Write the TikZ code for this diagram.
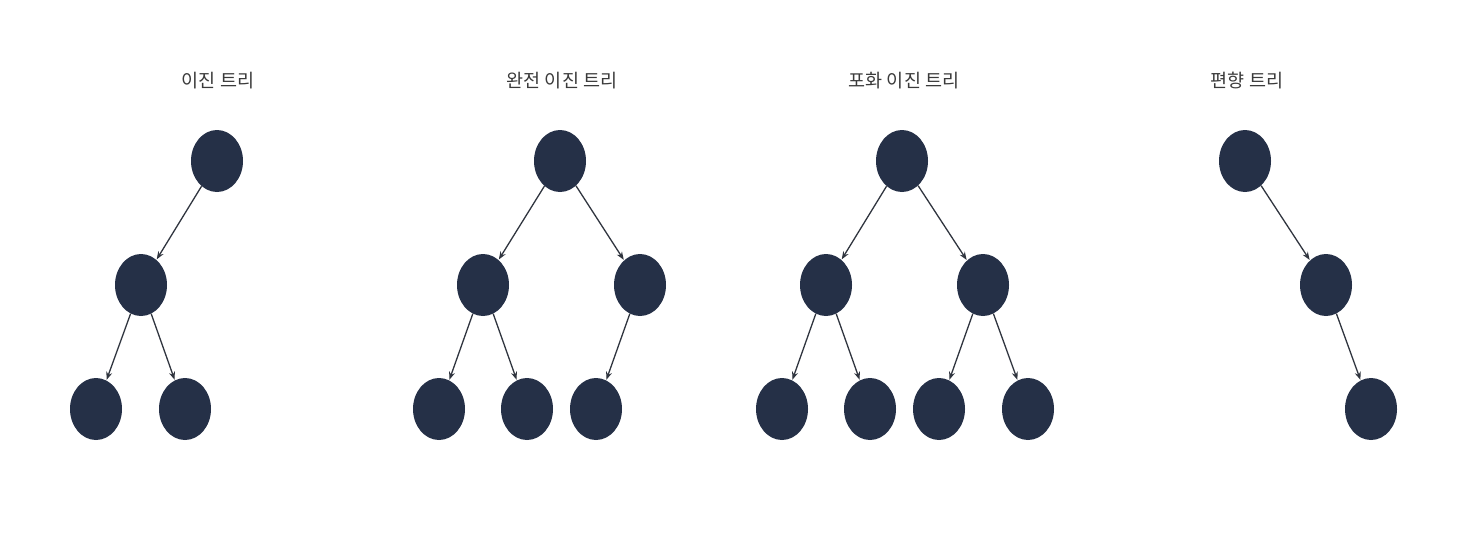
\documentclass[tikz,border=0pt]{standalone}
\usepackage{fontspec}
\newfontfamily\kr{Noto Sans CJK KR}
\usetikzlibrary{shapes.geometric,arrows.meta}
\definecolor{nodefill}{HTML}{253047}
\definecolor{edgecol}{HTML}{30353F}
\definecolor{titlecol}{HTML}{3A3A3A}
\tikzset{
  tnode/.style={ellipse,fill=nodefill,draw=none,minimum width=52pt,minimum height=62pt,inner sep=0pt},
  tedge/.style={draw=edgecol,line width=1.3pt,-{Stealth[length=8pt,width=6pt]},shorten >=0.5pt},
  ttitle/.style={text=titlecol,font=\kr\fontsize{18.5pt}{20pt}\selectfont}
}
\begin{document}
\begin{tikzpicture}[x=1pt,y=-1pt]
\useasboundingbox (0,0) rectangle (1482,552);
% titles
\node[ttitle] (t1) at (218,81) {이진 트리};
\node[ttitle] (t2) at (562,81) {완전 이진 트리};
\node[ttitle] (t3) at (904,81) {포화 이진 트리};
\node[ttitle] (t4) at (1247,81) {편향 트리};
% tree 1
\node[tnode] (a1) at (217,161) {};
\node[tnode] (a2) at (141,285) {};
\node[tnode] (a3) at (96,409) {};
\node[tnode] (a4) at (185,409) {};
\draw[tedge] (a1) -- (a2);
\draw[tedge] (a2) -- (a3);
\draw[tedge] (a2) -- (a4);
% tree 2
\node[tnode] (b1) at (560,161) {};
\node[tnode] (b2) at (483,285) {};
\node[tnode] (b3) at (640,285) {};
\node[tnode] (b4) at (439,409) {};
\node[tnode] (b5) at (527,409) {};
\node[tnode] (b6) at (596,409) {};
\draw[tedge] (b1) -- (b2);
\draw[tedge] (b1) -- (b3);
\draw[tedge] (b2) -- (b4);
\draw[tedge] (b2) -- (b5);
\draw[tedge] (b3) -- (b6);
% tree 3
\node[tnode] (c1) at (902,161) {};
\node[tnode] (c2) at (826,285) {};
\node[tnode] (c3) at (983,285) {};
\node[tnode] (c4) at (782,409) {};
\node[tnode] (c5) at (870,409) {};
\node[tnode] (c6) at (939,409) {};
\node[tnode] (c7) at (1028,409) {};
\draw[tedge] (c1) -- (c2);
\draw[tedge] (c1) -- (c3);
\draw[tedge] (c2) -- (c4);
\draw[tedge] (c2) -- (c5);
\draw[tedge] (c3) -- (c6);
\draw[tedge] (c3) -- (c7);
% tree 4
\node[tnode] (d1) at (1245,161) {};
\node[tnode] (d2) at (1326,285) {};
\node[tnode] (d3) at (1371,409) {};
\draw[tedge] (d1) -- (d2);
\draw[tedge] (d2) -- (d3);
\end{tikzpicture}
\end{document}
